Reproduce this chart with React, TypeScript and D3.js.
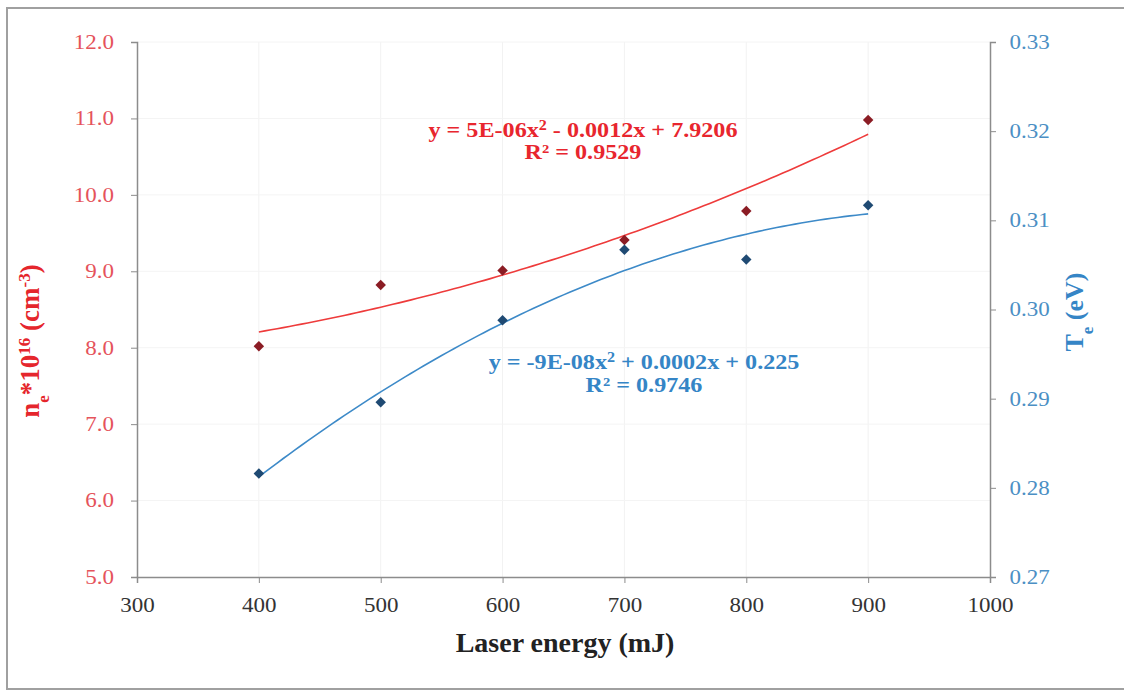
import * as d3 from "d3";
import { useEffect, useRef } from "react";

const energy = [400, 500, 600, 700, 800, 900];
const density = [8.02, 8.82, 9.01, 9.41, 9.79, 10.98];
const temperature = [0.2816, 0.2896, 0.2988, 0.3067, 0.3056, 0.3117];
const xTicks = [300, 400, 500, 600, 700, 800, 900, 1000];
const leftTicks = [5, 6, 7, 8, 9, 10, 11, 12];
const rightTicks = [0.27, 0.28, 0.29, 0.3, 0.31, 0.32, 0.33];

// least squares quadratic, like the Excel trendline
function quadFit(xs: number[], ys: number[]) {
  const n = xs.length;
  let s = [0, 0, 0, 0, 0], t = [0, 0, 0];
  for (let i = 0; i < n; i++) {
    for (let k = 0; k < 5; k++) s[k] += Math.pow(xs[i], k);
    for (let k = 0; k < 3; k++) t[k] += ys[i] * Math.pow(xs[i], k);
  }
  const m = [
    [s[0], s[1], s[2], t[0]],
    [s[1], s[2], s[3], t[1]],
    [s[2], s[3], s[4], t[2]]
  ];
  for (let i = 0; i < 3; i++) {
    for (let j = i + 1; j < 3; j++) {
      const f = m[j][i] / m[i][i];
      for (let k = i; k < 4; k++) m[j][k] -= f * m[i][k];
    }
  }
  const c = [0, 0, 0];
  for (let i = 2; i >= 0; i--) {
    let v = m[i][3];
    for (let k = i + 1; k < 3; k++) v -= m[i][k] * c[k];
    c[i] = v / m[i][i];
  }
  return (x: number) => c[0] + c[1] * x + c[2] * x * x;
}

const App = () => {
  const ref = useRef<SVGSVGElement>(null);

  useEffect(() => {
    const svg = d3.select(ref.current);
    svg.selectAll("*").remove();

    const left = 137, right = 990, top = 42, bottom = 577;
    const font = "'Liberation Serif', 'Times New Roman', serif";
    const sx = 1.15; // the picture's text is a bit wide

    const x = d3.scaleLinear().domain([300, 1000]).range([left, right]);
    const yL = d3.scaleLinear().domain([5, 12]).range([bottom, top]);
    const yR = d3.scaleLinear().domain([0.27, 0.33]).range([bottom, top]);

    svg.append("rect")
      .attr("x", 7).attr("y", 8).attr("width", 1130).attr("height", 681)
      .attr("fill", "white").attr("stroke", "#a0a0a0").attr("stroke-width", 2);

    // faint grid
    svg.append("g").selectAll("line").data(xTicks.slice(1, -1)).join("line")
      .attr("x1", d => x(d)).attr("x2", d => x(d))
      .attr("y1", top).attr("y2", bottom)
      .attr("stroke", "#f2f2f2");
    svg.append("g").selectAll("line").data(leftTicks.slice(1)).join("line")
      .attr("x1", left).attr("x2", right)
      .attr("y1", d => yL(d)).attr("y2", d => yL(d))
      .attr("stroke", "#f4f4f4");

    const axisColor = "#8c8c8c";

    const gx = svg.append("g").attr("transform", `translate(0,${bottom})`)
      .call(d3.axisBottom(x).tickValues(xTicks).tickSize(6).tickPadding(15).tickFormat(d3.format("d")));
    gx.select(".domain").attr("stroke", axisColor).attr("stroke-width", 1.5);
    gx.selectAll(".tick line").attr("stroke", axisColor);
    gx.selectAll("text").attr("font-family", font).attr("font-size", 20).attr("fill", "#333")
      .attr("transform", `scale(${sx},1)`);

    const gl = svg.append("g").attr("transform", `translate(${left},0)`)
      .call(d3.axisLeft(yL).tickValues(leftTicks).tickSize(6).tickPadding(14).tickFormat(d3.format(".1f")));
    gl.select(".domain").attr("stroke", axisColor).attr("stroke-width", 1.5);
    gl.selectAll(".tick line").attr("stroke", axisColor);
    gl.selectAll("text").attr("font-family", font).attr("font-size", 20).attr("fill", "#e5535b")
      .attr("transform", `scale(${sx},1)`);

    const gr = svg.append("g").attr("transform", `translate(${right},0)`)
      .call(d3.axisRight(yR).tickValues(rightTicks).tickSize(6).tickPadding(11).tickFormat(d3.format(".2f")));
    gr.select(".domain").attr("stroke", axisColor).attr("stroke-width", 1.5);
    gr.selectAll(".tick line").attr("stroke", axisColor);
    gr.selectAll("text").attr("font-family", font).attr("font-size", 20).attr("fill", "#4b8fc4")
      .attr("transform", `scale(${sx},1)`);

    // trendlines
    const fitN = quadFit(energy, density);
    const fitT = quadFit(energy, temperature);
    const xs = d3.range(400, 900.1, 5);
    svg.append("path")
      .attr("d", d3.line<number>().x(d => x(d)).y(d => yL(fitN(d)))(xs))
      .attr("fill", "none").attr("stroke", "#ee3b3b").attr("stroke-width", 1.6);
    svg.append("path")
      .attr("d", d3.line<number>().x(d => x(d)).y(d => yR(fitT(d)))(xs))
      .attr("fill", "none").attr("stroke", "#3d8ac8").attr("stroke-width", 1.6);

    const diamond = d3.symbol().type(d3.symbolDiamond2).size(70);
    svg.append("g").selectAll("path").data(energy).join("path")
      .attr("transform", (d, i) => `translate(${x(d)},${yL(density[i])})`)
      .attr("d", diamond()).attr("fill", "#8b1c24");
    svg.append("g").selectAll("path").data(energy).join("path")
      .attr("transform", (d, i) => `translate(${x(d)},${yR(temperature[i])})`)
      .attr("d", diamond()).attr("fill", "#1f4a73");

    // equations
    const eq = (cx: number, cy: number, gap: number, color: string, parts: [string, string][], r2: string) => {
      const t = svg.append("text").attr("transform", `translate(${cx},${cy}) scale(${sx},1)`)
        .attr("text-anchor", "middle").attr("font-family", font)
        .attr("font-weight", "bold").attr("font-size", 21).attr("fill", color);
      parts.forEach(([s, kind]) => {
        const sp = t.append("tspan").text(s);
        if (kind === "sup") sp.attr("baseline-shift", "super").attr("font-size", 14);
      });
      svg.append("text").attr("transform", `translate(${cx},${cy + gap}) scale(${sx},1)`)
        .attr("text-anchor", "middle").attr("font-family", font)
        .attr("font-weight", "bold").attr("font-size", 21).attr("fill", color)
        .text(r2);
    };
    eq(583, 137, 22, "#e8262e", [["y = 5E-06x", ""], ["2", "sup"], [" - 0.0012x + 7.9206", ""]], "R² = 0.9529");
    eq(644, 369, 23, "#3585c6", [["y = -9E-08x", ""], ["2", "sup"], [" + 0.0002x + 0.225", ""]], "R² = 0.9746");

    // axis titles
    svg.append("text").attr("x", 565).attr("y", 652)
      .attr("text-anchor", "middle").attr("font-family", font)
      .attr("font-weight", "bold").attr("font-size", 28).attr("fill", "#222")
      .text("Laser energy (mJ)");

    const lt = svg.append("text").attr("transform", "translate(39,341) rotate(-90)")
      .attr("text-anchor", "middle").attr("font-family", font)
      .attr("font-weight", "bold").attr("font-size", 27).attr("fill", "#e5262c");
    lt.append("tspan").text("n");
    lt.append("tspan").text("e").attr("font-size", 17).attr("baseline-shift", "sub");
    lt.append("tspan").text("*10");
    lt.append("tspan").text("16").attr("font-size", 17).attr("baseline-shift", "super");
    lt.append("tspan").text(" (cm");
    lt.append("tspan").text("-3").attr("font-size", 17).attr("baseline-shift", "super");
    lt.append("tspan").text(")");

    const rt = svg.append("text").attr("transform", "translate(1083,312) rotate(-90)")
      .attr("text-anchor", "middle").attr("font-family", font)
      .attr("font-weight", "bold").attr("font-size", 26).attr("fill", "#3585c6");
    rt.append("tspan").text("T");
    rt.append("tspan").text("e").attr("font-size", 17).attr("baseline-shift", "sub");
    rt.append("tspan").text(" (eV)");
  }, []);

  return (
    <svg ref={ref} width={1124} height={691}
      style={{ position: "absolute", left: 0, top: 0, background: "white" }} />
  );
};

export default App;
